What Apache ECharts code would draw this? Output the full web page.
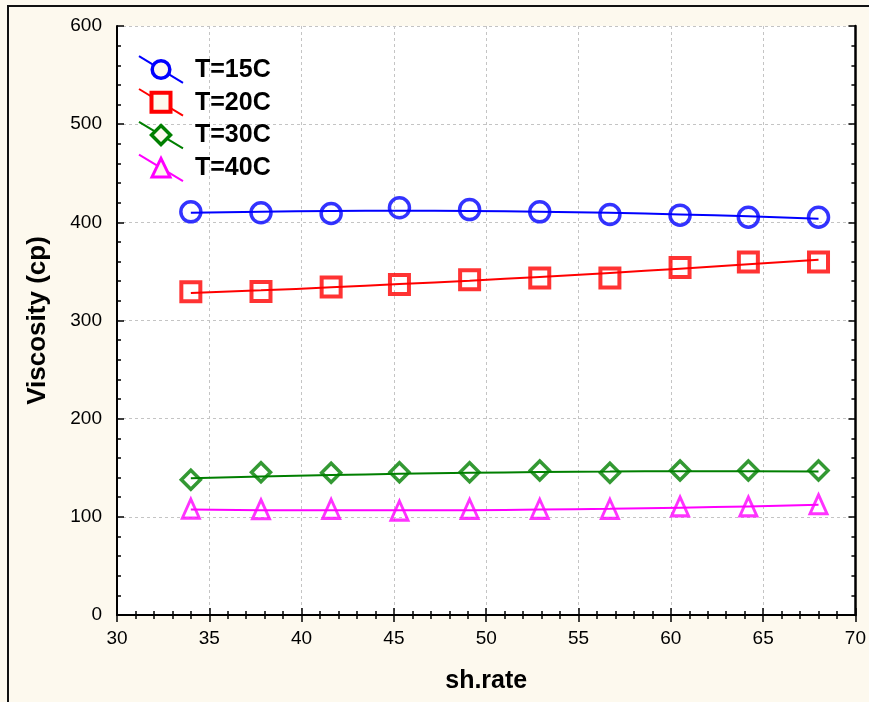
<!DOCTYPE html>
<html>
<head>
<meta charset="utf-8">
<script src="https://cdn.jsdelivr.net/npm/echarts@6/dist/echarts.min.js"></script>
<style>
  html, body { margin: 0; padding: 0; background: #fdf9ee; }
  #chart { width: 869px; height: 702px; }
</style>
</head>
<body>
<div id="chart"></div>
<script>
// Shear rate (x) and measured viscosity (cp) per temperature
const shearRate = [34.0, 37.8, 41.6, 45.3, 49.1, 52.9, 56.7, 60.5, 64.2, 68.0];
const visc15 = [410.7, 409.7, 409.0, 414.8, 413.0, 410.7, 408.0, 407.3, 405.2, 405.2];
const visc20 = [329.2, 329.5, 334.0, 336.7, 341.5, 343.3, 343.3, 354.1, 359.6, 359.6];
const visc30 = [137.7, 145.5, 144.9, 145.5, 145.5, 147.2, 144.9, 147.2, 147.2, 147.2];
const visc40 = [108.4, 107.7, 108.1, 106.3, 108.1, 108.1, 108.1, 110.6, 110.6, 112.8];

// Fitted trend curves at the same shear rates
const fit15 = [409.7, 410.9, 411.5, 411.8, 411.5, 410.9, 409.7, 408.1, 406.1, 403.6];
const fit20 = [327.9, 330.7, 333.8, 337.1, 340.6, 344.4, 348.5, 352.8, 357.2, 362.0];
const fit30 = [139.4, 141.1, 142.6, 143.8, 144.8, 145.6, 146.1, 146.4, 146.4, 146.2];
const fit40 = [107.4, 106.8, 106.6, 106.6, 106.8, 107.4, 108.2, 109.3, 110.6, 112.2];

const seriesNames = ['T=15C', 'T=20C', 'T=30C', 'T=40C'];

// Axis ranges and tick steps
const xMin = 30, xMax = 70, xStep = 5;
const yMin = 0, yMax = 600, yStep = 100;

const measured = [visc15, visc20, visc30, visc40];
const fitted = [fit15, fit20, fit30, fit40];

const colors = ['#0000ff', '#ff0000', '#007f00', '#ff00ff'];
const symbols = ['circle', 'rect', 'diamond', 'triangle'];
const symbolSizes = [20, 19, 19, [17, 19]];
const borderWidths = [3.5, 4, 3.5, 3];
const BG = '#fdf9ee';
const FONT = '"Liberation Sans", Arial, sans-serif';

const pairs = arr => shearRate.map((x, i) => [x, arr[i]]);

const series = [];
seriesNames.forEach((name, k) => {
  series.push({
    name: name,
    type: 'line',
    data: pairs(fitted[k]),
    smooth: true,
    showSymbol: false,
    symbol: 'none',
    lineStyle: { color: colors[k], width: 2 },
    z: 3,
    silent: true
  });
  series.push({
    name: name,
    type: 'scatter',
    data: pairs(measured[k]),
    symbol: symbols[k],
    symbolSize: symbolSizes[k],
    itemStyle: {
      color: 'rgba(0,0,0,0)',
      borderColor: colors[k],
      borderWidth: borderWidths[k]
    },
    z: 4
  });
});

// Legend: diagonal line through a hollow marker, followed by the label
const legendGraphics = [];
seriesNames.forEach((name, k) => {
  const cx = 161, cy = 69.5 + 32.8 * k;
  legendGraphics.push({
    type: 'line',
    shape: { x1: cx - 22, y1: cy - 13.3, x2: cx + 22, y2: cy + 13.3 },
    style: { stroke: colors[k], lineWidth: 2 },
    z: 10
  });
  let shape;
  if (symbols[k] === 'circle') {
    shape = { type: 'circle', shape: { cx: cx, cy: cy, r: 8.8 } };
  } else if (symbols[k] === 'rect') {
    shape = { type: 'rect', shape: { x: cx - 9.5, y: cy - 9.5, width: 19, height: 19 } };
  } else if (symbols[k] === 'diamond') {
    shape = { type: 'polygon', shape: { points: [[cx, cy - 9.5], [cx + 9.5, cy], [cx, cy + 9.5], [cx - 9.5, cy]] } };
  } else {
    shape = { type: 'polygon', shape: { points: [[cx, cy - 9.5], [cx + 9, cy + 9], [cx - 9, cy + 9]] } };
  }
  shape.style = { fill: BG, stroke: colors[k], lineWidth: borderWidths[k] };
  shape.z = 11;
  legendGraphics.push(shape);
  legendGraphics.push({
    type: 'text',
    x: 195,
    y: cy + 0.5,
    style: {
      text: name,
      fill: '#000',
      font: 'bold 25px ' + FONT,
      textVerticalAlign: 'middle',
      textAlign: 'left'
    },
    z: 11
  });
});

const axisCommon = {
  min: null, max: null,
  axisLine: { show: true, lineStyle: { color: '#000', width: 2 } },
  axisTick: { show: true, inside: true, length: 7, lineStyle: { color: '#000', width: 1.5 } },
  minorTick: { show: true, splitNumber: 5, length: 4, lineStyle: { color: '#000', width: 1.5 } },
  splitLine: { show: false },
  axisLabel: { show: false }
};

const option = {
  backgroundColor: BG,
  animation: false,
  grid: { left: 117, right: 10, top: 26, bottom: 87, show: true, backgroundColor: '#ffffff', borderWidth: 0 },
  xAxis: [
    Object.assign({}, axisCommon, {
      type: 'value', position: 'bottom', min: xMin, max: xMax, interval: xStep,
      splitLine: { show: true, lineStyle: { color: '#c4c4c4', type: [3, 3], width: 1 } },
      axisLabel: { show: true, color: '#000', fontFamily: FONT, fontSize: 19, margin: 14 },
      name: 'sh.rate', nameLocation: 'middle', nameGap: 54,
      nameTextStyle: { color: '#000', fontFamily: FONT, fontSize: 25, fontWeight: 'bold' }
    }),
    Object.assign({}, axisCommon, {
      type: 'value', position: 'top', min: xMin, max: xMax, interval: xStep,
      axisLine: { show: true, lineStyle: { color: '#000', width: 1 } }
    })
  ],
  yAxis: [
    Object.assign({}, axisCommon, {
      type: 'value', position: 'left', min: yMin, max: yMax, interval: yStep,
      splitLine: { show: true, lineStyle: { color: '#c4c4c4', type: [3, 3], width: 1 } },
      axisLabel: { show: true, color: '#000', fontFamily: FONT, fontSize: 19, margin: 15 },
      name: 'Viscosity (cp)', nameLocation: 'middle', nameGap: 66,
      nameTextStyle: { color: '#000', fontFamily: FONT, fontSize: 26, fontWeight: 'bold' }
    }),
    Object.assign({}, axisCommon, {
      type: 'value', position: 'right', min: yMin, max: yMax, interval: yStep,
      axisLine: { show: true, lineStyle: { color: '#000', width: 2.5 } }
    })
  ],
  series: series,
  graphic: [
    {
      type: 'rect',
      shape: { x: 8, y: 6, width: 1000, height: 1000 },
      style: { fill: 'none', stroke: '#111', lineWidth: 2 },
      z: 20, silent: true
    }
  ].concat(legendGraphics)
};

const chart = echarts.init(document.getElementById('chart'), null, { renderer: 'canvas' });
chart.setOption(option);
</script>
</body>
</html>
